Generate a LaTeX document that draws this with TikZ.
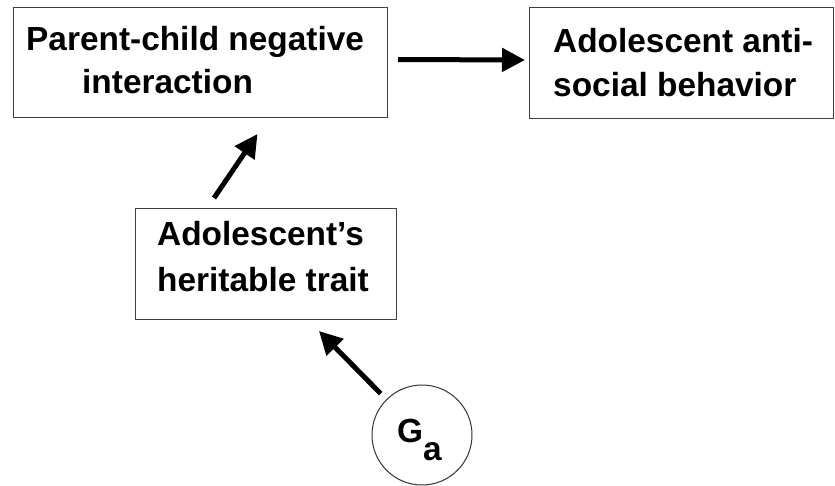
\documentclass[tikz,border=0pt]{standalone}
\usepackage{fontspec}
\setmainfont{Liberation Sans}
\usetikzlibrary{arrows.meta}
\begin{document}
\begin{tikzpicture}[x=1pt,y=-1pt,
  box/.style={draw=black!75, line width=1pt, inner sep=0pt, anchor=north west},
  lbl/.style={anchor=base west, inner sep=0pt, font=\bfseries\fontsize{33.4}{44}\selectfont},
  link/.style={line width=5pt, -{Triangle[length=23pt,width=23pt]}}]
\useasboundingbox (0,0) rectangle (835,486);

% boxes
\node[box, minimum width=374pt, minimum height=110pt] (pc) at (13,7) {};
\node[box, minimum width=304pt, minimum height=111pt] (as) at (529,7) {};
\node[box, minimum width=261pt, minimum height=111pt] (ht) at (135,208) {};
\node[draw=black!80, line width=1pt, circle, minimum size=100pt, inner sep=0pt] (ga) at (422,435) {};

% labels
\node[lbl] (pc1) at (26,51) {Parent-child negative};
\node[lbl] (pc2) at (82,94) {interaction};
\node[lbl] (as1) at (553,53) {Adolescent anti-};
\node[lbl] (as2) at (553,97) {social behavior};
\node[lbl] (ht1) at (157,246) {Adolescent’s};
\node[lbl] (ht2) at (157,291) {heritable trait};
\node[lbl] (gal) at (397,442) {G\raisebox{-18pt}{a}};

% paths
\draw[link, shorten <=10pt, shorten >=4pt] ([yshift=3pt]pc.east) -- ([yshift=3pt]as.west);
\draw[link] ([xshift=-52pt,yshift=10pt]ht.north) -- ([xshift=57pt,yshift=-16pt]pc.south);
\draw[link, shorten <=8pt] (ga.135) -- ([xshift=-78pt,yshift=-11pt]ht.south east);
\end{tikzpicture}
\end{document}
